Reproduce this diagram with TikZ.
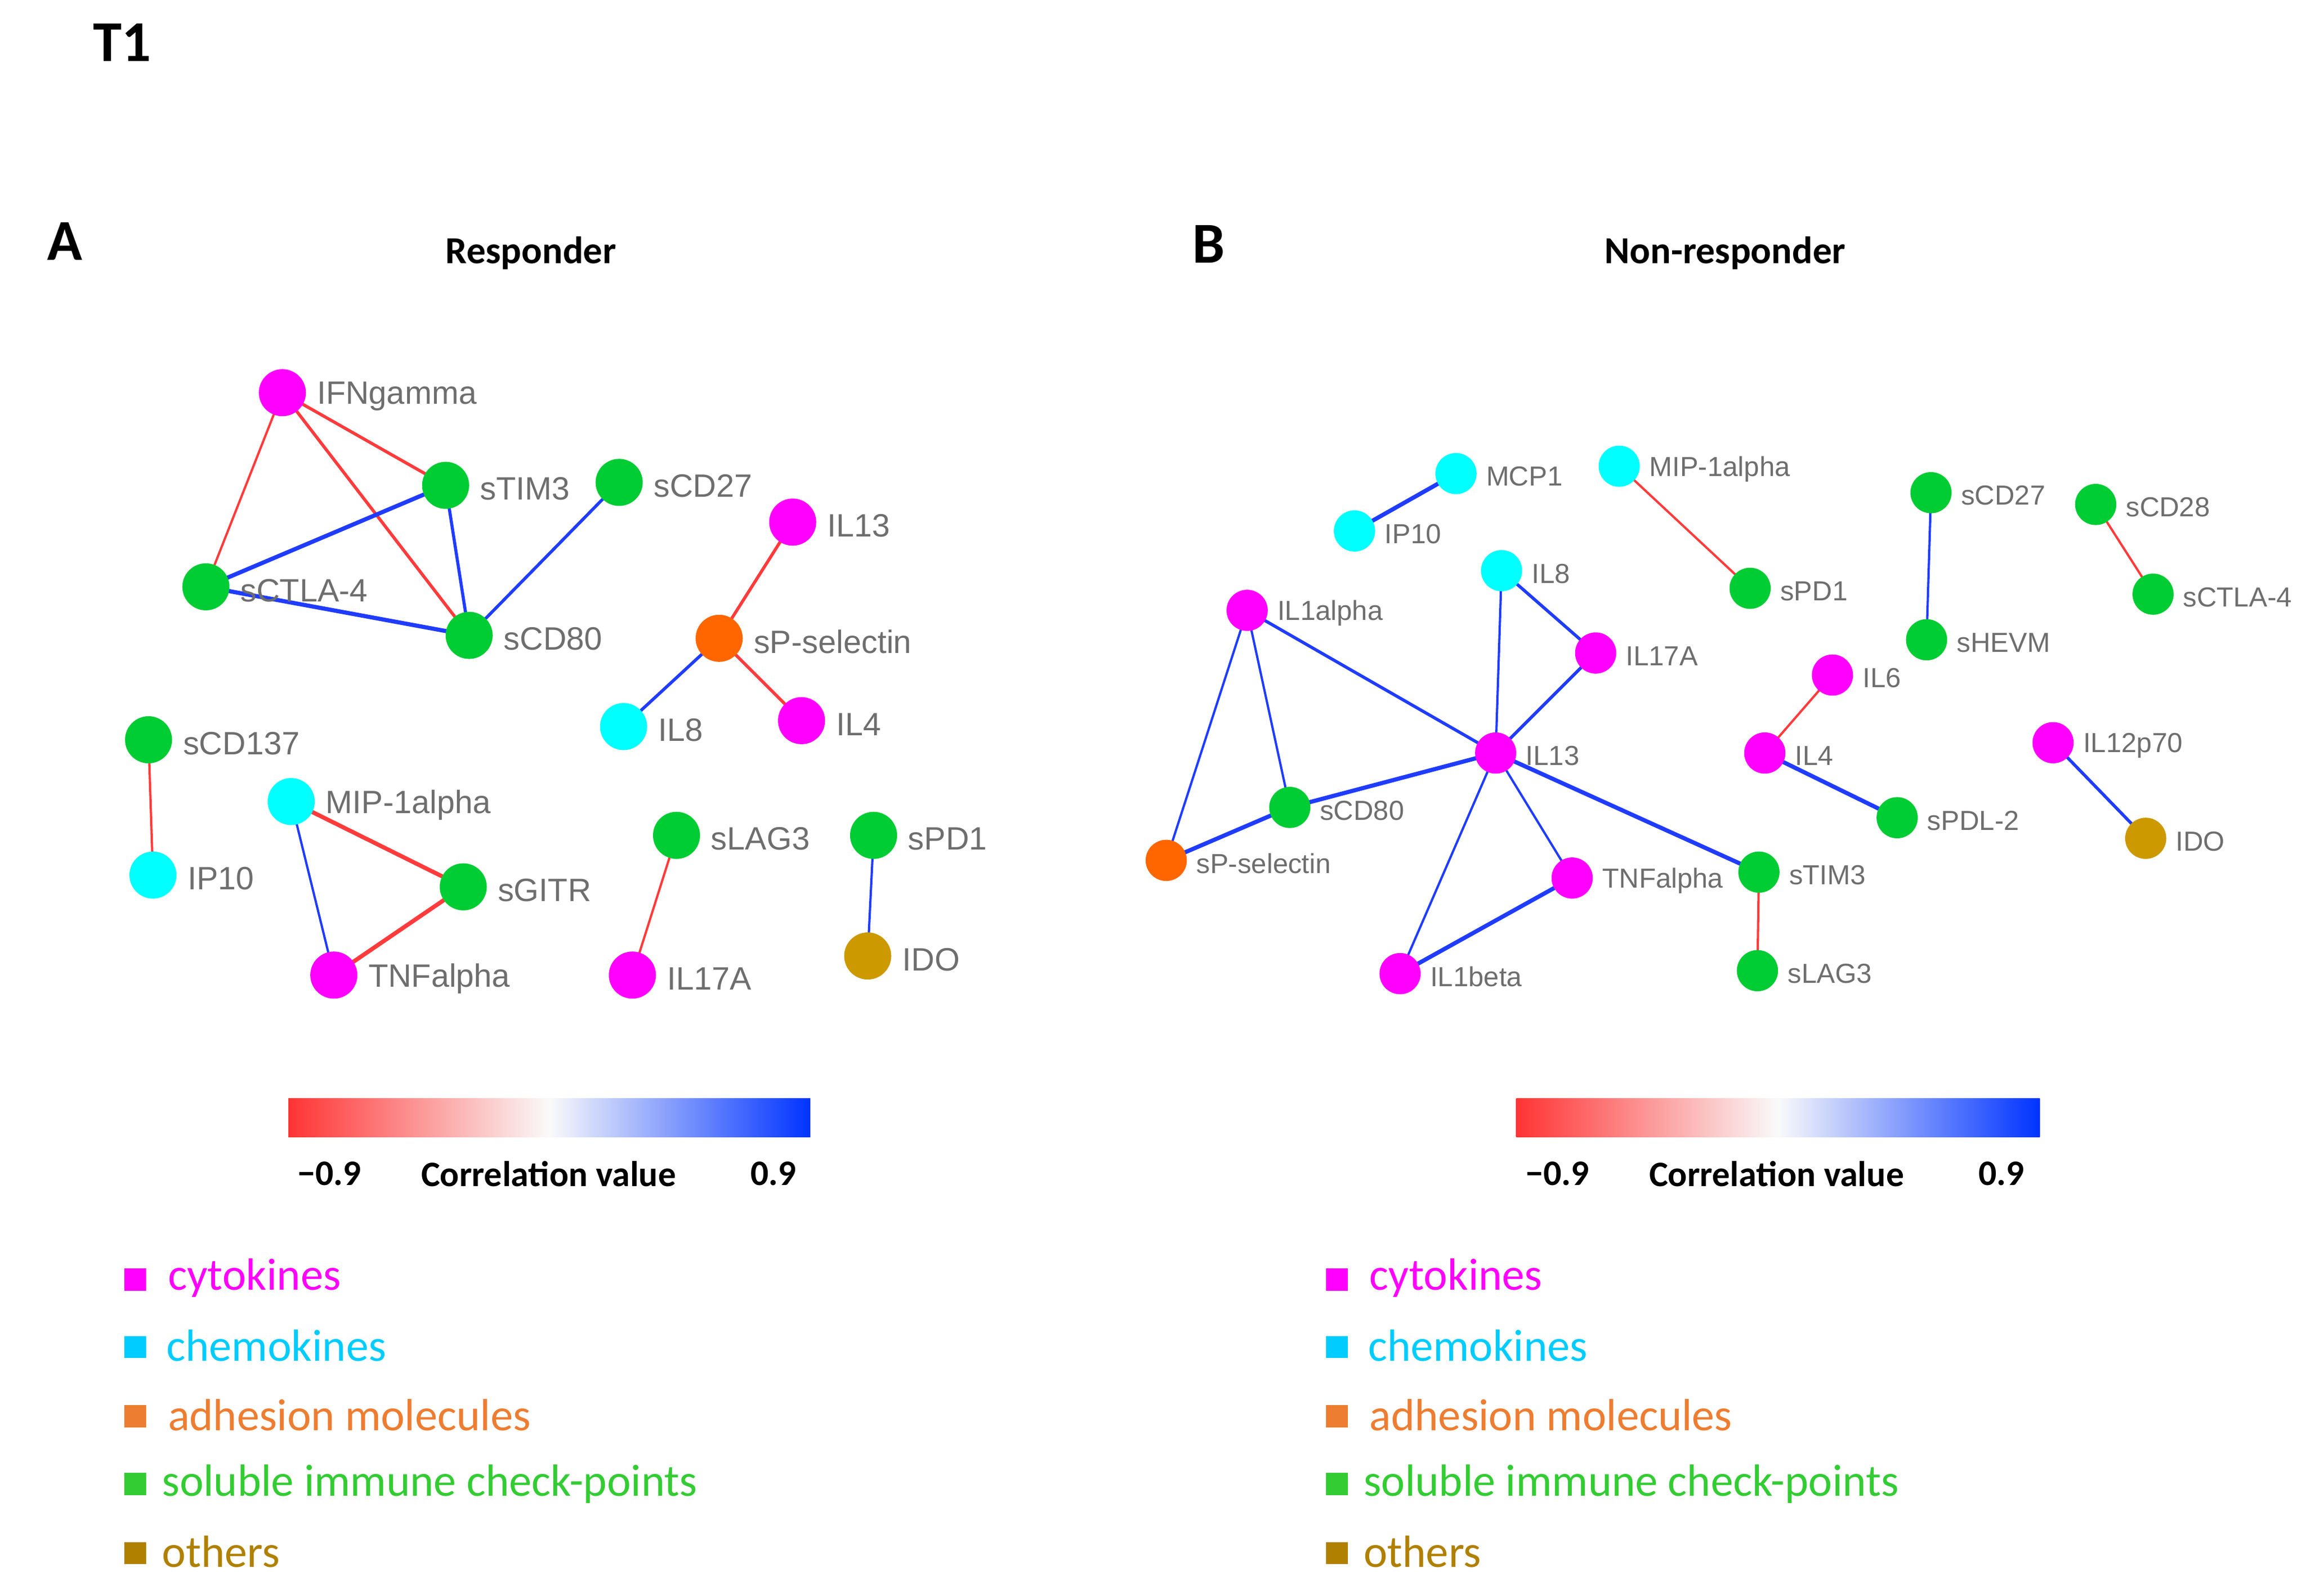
\documentclass[tikz,border=0pt]{standalone}
\usepackage{fontspec}
\setmainfont{Carlito}
\newfontfamily\labfont{Liberation Sans}
\pgfdeclarelayer{bg}
\pgfsetlayers{bg,main}
\definecolor{cmag}{HTML}{FF00FF}
\definecolor{ccya}{HTML}{00FFFF}
\definecolor{cgrn}{HTML}{00CC33}
\definecolor{corg}{HTML}{FF6600}
\definecolor{cgld}{HTML}{CC9900}
\definecolor{ered}{HTML}{FF3B3B}
\definecolor{eblu}{HTML}{1F3CFF}
\definecolor{lgray}{HTML}{6E6E6E}
\definecolor{lgcyt}{HTML}{FF00FF}
\definecolor{lgche}{HTML}{00CCFF}
\definecolor{lgadh}{HTML}{ED7D31}
\definecolor{lgsol}{HTML}{33CC33}
\definecolor{lgoth}{HTML}{B08000}
\definecolor{barred}{HTML}{FF3333}
\definecolor{barblu}{HTML}{0033FF}
\tikzset{
  x=0.025cm, y=-0.025cm,
  nA/.style={circle, minimum size=0.8cm, inner sep=0pt, draw=none},
  nB/.style={circle, minimum size=0.7cm, inner sep=0pt, draw=none},
  lA/.style={font=\labfont\fontsize{15.6}{18}\selectfont, text=lgray, inner sep=0pt, label distance=0.175cm, yshift=-0.06cm},
  lB/.style={font=\labfont\fontsize{13.3}{16}\selectfont, text=lgray, inner sep=0pt, label distance=0.15cm, yshift=-0.05cm},
  eR/.style={draw=ered, line width=1.1pt},
  eRm/.style={draw=ered, line width=1.5pt},
  eRt/.style={draw=ered, line width=2pt},
  eB/.style={draw=eblu, line width=1.1pt},
  eBm/.style={draw=eblu, line width=1.5pt},
  eBt/.style={draw=eblu, line width=2pt},
  big/.style={font=\bfseries\fontsize{28}{32}\selectfont, inner sep=0pt},
  ttl/.style={font=\bfseries\fontsize{18.5}{22}\selectfont, inner sep=0pt},
  cbl/.style={font=\bfseries\fontsize{17.3}{20}\selectfont, inner sep=0pt},
  lgsq/.style={minimum size=0.375cm, inner sep=0pt, draw=none},
  lgtx/.style={font=\fontsize{21.8}{25}\selectfont, inner sep=0pt, anchor=west},
}
\begin{document}
\begin{tikzpicture}
\useasboundingbox (0,0) rectangle (1568,1085);
% titles
\node[big] (t1) at (83,29) {T1};
\node[big] (pa) at (44,164) {A};
\node[big] (pb) at (822,166) {B};
\node[ttl] (ra) at (361,172) {Responder};
\node[ttl] (rb) at (1173,172) {Non-responder};

% ---------- Panel A nodes
\node[nA, fill=cmag, label={[lA]0:IFNgamma}] (aifn) at (192,267) {};
\node[nA, fill=cgrn, label={[lA]0:sTIM3}] (atim) at (303,330) {};
\node[nA, fill=cgrn, label={[lA]0:sCD27}] (acd27) at (421,328) {};
\node[nA, fill=cgrn, label={[lA]0:sCTLA-4}] (actla) at (140,399) {};
\node[nA, fill=cgrn, label={[lA]0:sCD80}] (acd80) at (319,432) {};
\node[nA, fill=cmag, label={[lA]0:IL13}] (ail13) at (539,355) {};
\node[nA, fill=corg, label={[lA]0:sP-selectin}] (apsel) at (489,434) {};
\node[nA, fill=ccya, label={[lA]0:IL8}] (ail8) at (424,494) {};
\node[nA, fill=cmag, label={[lA]0:IL4}] (ail4) at (545,490) {};
\node[nA, fill=cgrn, label={[lA]0:sCD137}] (acd137) at (101,503) {};
\node[nA, fill=ccya, label={[lA]0:IP10}] (aip10) at (104,595) {};
\node[nA, fill=ccya, label={[lA]0:MIP-1alpha}] (amip) at (198,545) {};
\node[nA, fill=cgrn, label={[lA]0:sGITR}] (agitr) at (315,603) {};
\node[nA, fill=cmag, label={[lA]0:TNFalpha}] (atnf) at (227,663) {};
\node[nA, fill=cgrn, label={[lA]0:sLAG3}] (alag) at (460,568) {};
\node[nA, fill=cmag, label={[lA]0:IL17A}] (ail17) at (430,663) {};
\node[nA, fill=cgrn, label={[lA]0:sPD1}] (apd1) at (594,568) {};
\node[nA, fill=cgld, label={[lA]0:IDO}] (aido) at (590,650) {};

% ---------- Panel B nodes
\node[nB, fill=ccya, label={[lB]0:MCP1}] (bmcp) at (990,322) {};
\node[nB, fill=ccya, label={[lB]0:IP10}] (bip10) at (921,361) {};
\node[nB, fill=ccya, label={[lB]0:MIP-1alpha}] (bmip) at (1101,317) {};
\node[nB, fill=cgrn, label={[lB]0:sPD1}] (bpd1) at (1190,400) {};
\node[nB, fill=cgrn, label={[lB]0:sCD27}] (bcd27) at (1313,335) {};
\node[nB, fill=cgrn, label={[lB]0:sHEVM}] (bhevm) at (1310,435) {};
\node[nB, fill=cgrn, label={[lB]0:sCD28}] (bcd28) at (1425,343) {};
\node[nB, fill=cgrn, label={[lB]0:sCTLA-4}] (bctla) at (1464,404) {};
\node[nB, fill=ccya, label={[lB]0:IL8}] (bil8) at (1021,388) {};
\node[nB, fill=cmag, label={[lB]0:IL1alpha}] (bil1a) at (848,415) {};
\node[nB, fill=cmag, label={[lB]0:IL17A}] (bil17) at (1085,444) {};
\node[nB, fill=cmag, label={[lB]0:IL6}] (bil6) at (1246,459) {};
\node[nB, fill=cmag, label={[lB]0:IL4}] (bil4) at (1200,512) {};
\node[nB, fill=cmag, label={[lB]0:IL13}] (bil13) at (1017,512) {};
\node[nB, fill=cmag, label={[lB]0:IL12p70}] (bil12) at (1396,505) {};
\node[nB, fill=cgrn, label={[lB]0:sCD80}] (bcd80) at (877,549) {};
\node[nB, fill=cgrn, label={[lB]0:sPDL-2}] (bpdl2) at (1290,556) {};
\node[nB, fill=cgld, label={[lB]0:IDO}] (bido) at (1459,570) {};
\node[nB, fill=corg, label={[lB]0:sP-selectin}] (bpsel) at (793,585) {};
\node[nB, fill=cmag, label={[lB]0:TNFalpha}] (btnf) at (1069,597) {};
\node[nB, fill=cgrn, label={[lB]0:sTIM3}] (btim) at (1196,593) {};
\node[nB, fill=cmag, label={[lB]0:IL1beta}] (bil1b) at (952,662) {};
\node[nB, fill=cgrn, label={[lB]0:sLAG3}] (blag) at (1195,660) {};

% ---------- edges
\begin{pgfonlayer}{bg}
\draw[eRm] (aifn.center) -- (atim.center);
\draw[eR]  (aifn.center) -- (actla.center);
\draw[eRm] (aifn.center) -- (acd80.center);
\draw[eBt] (atim.center) -- (actla.center);
\draw[eBm] (atim.center) -- (acd80.center);
\draw[eBt] (actla.center) -- (acd80.center);
\draw[eBm] (acd27.center) -- (acd80.center);
\draw[eRm] (ail13.center) -- (apsel.center);
\draw[eBm] (apsel.center) -- (ail8.center);
\draw[eRm] (apsel.center) -- (ail4.center);
\draw[eR]  (acd137.center) -- (aip10.center);
\draw[eRt] (amip.center) -- (agitr.center);
\draw[eB]  (amip.center) -- (atnf.center);
\draw[eRt] (agitr.center) -- (atnf.center);
\draw[eR]  (alag.center) -- (ail17.center);
\draw[eB]  (apd1.center) -- (aido.center);

\draw[eBt] (bmcp.center) -- (bip10.center);
\draw[eR]  (bmip.center) -- (bpd1.center);
\draw[eB]  (bcd27.center) -- (bhevm.center);
\draw[eR]  (bcd28.center) -- (bctla.center);
\draw[eB]  (bil8.center) -- (bil13.center);
\draw[eBm] (bil8.center) -- (bil17.center);
\draw[eBm] (bil17.center) -- (bil13.center);
\draw[eBm] (bil1a.center) -- (bil13.center);
\draw[eB]  (bil1a.center) -- (bcd80.center);
\draw[eB]  (bil1a.center) -- (bpsel.center);
\draw[eBt] (bil13.center) -- (bcd80.center);
\draw[eBt] (bcd80.center) -- (bpsel.center);
\draw[eB]  (bil13.center) -- (bil1b.center);
\draw[eB]  (bil13.center) -- (btnf.center);
\draw[eBt] (bil13.center) -- (btim.center);
\draw[eBt] (btnf.center) -- (bil1b.center);
\draw[eR]  (btim.center) -- (blag.center);
\draw[eR]  (bil6.center) -- (bil4.center);
\draw[eBt] (bil4.center) -- (bpdl2.center);
\draw[eBm] (bil12.center) -- (bido.center);
\end{pgfonlayer}

% ---------- colour bars
\shade[left color=barred, right color=barblu, middle color=white!96!gray] (196,747) rectangle (551,773);
\node[cbl] (amin) at (224,798) {\char"2212 0.9};
\node[cbl] (acv) at (373,798) {Correlation value};
\node[cbl] (amax) at (526,798) {0.9};
\shade[left color=barred, right color=barblu, middle color=white!96!gray] (1031,747) rectangle (1387,773);
\node[cbl] (bmin) at (1059,798) {\char"2212 0.9};
\node[cbl] (bcv) at (1208,798) {Correlation value};
\node[cbl] (bmax) at (1361,798) {0.9};

% ---------- legends
\node[lgsq, fill=lgcyt] (aq1) at (92,870) {};
\node[lgtx, text=lgcyt] (at1) at (114,869) {cytokines};
\node[lgsq, fill=lgche] (aq2) at (92,916) {};
\node[lgtx, text=lgche] (at2) at (113,915) {chemokines};
\node[lgsq, fill=lgadh] (aq3) at (92,963) {};
\node[lgtx, text=lgadh] (at3) at (114,962) {adhesion molecules};
\node[lgsq, fill=lgsol] (aq4) at (92,1009) {};
\node[lgtx, text=lgsol] (at4) at (110,1009) {soluble immune check-points};
\node[lgsq, fill=lgoth] (aq5) at (92,1056) {};
\node[lgtx, text=lgoth] (at5) at (110,1055) {others};

\node[lgsq, fill=lgcyt] (bq1) at (909,870) {};
\node[lgtx, text=lgcyt] (bt1) at (931,869) {cytokines};
\node[lgsq, fill=lgche] (bq2) at (909,916) {};
\node[lgtx, text=lgche] (bt2) at (930,915) {chemokines};
\node[lgsq, fill=lgadh] (bq3) at (909,963) {};
\node[lgtx, text=lgadh] (bt3) at (931,962) {adhesion molecules};
\node[lgsq, fill=lgsol] (bq4) at (909,1009) {};
\node[lgtx, text=lgsol] (bt4) at (927,1009) {soluble immune check-points};
\node[lgsq, fill=lgoth] (bq5) at (909,1056) {};
\node[lgtx, text=lgoth] (bt5) at (927,1055) {others};
\end{tikzpicture}
\end{document}
